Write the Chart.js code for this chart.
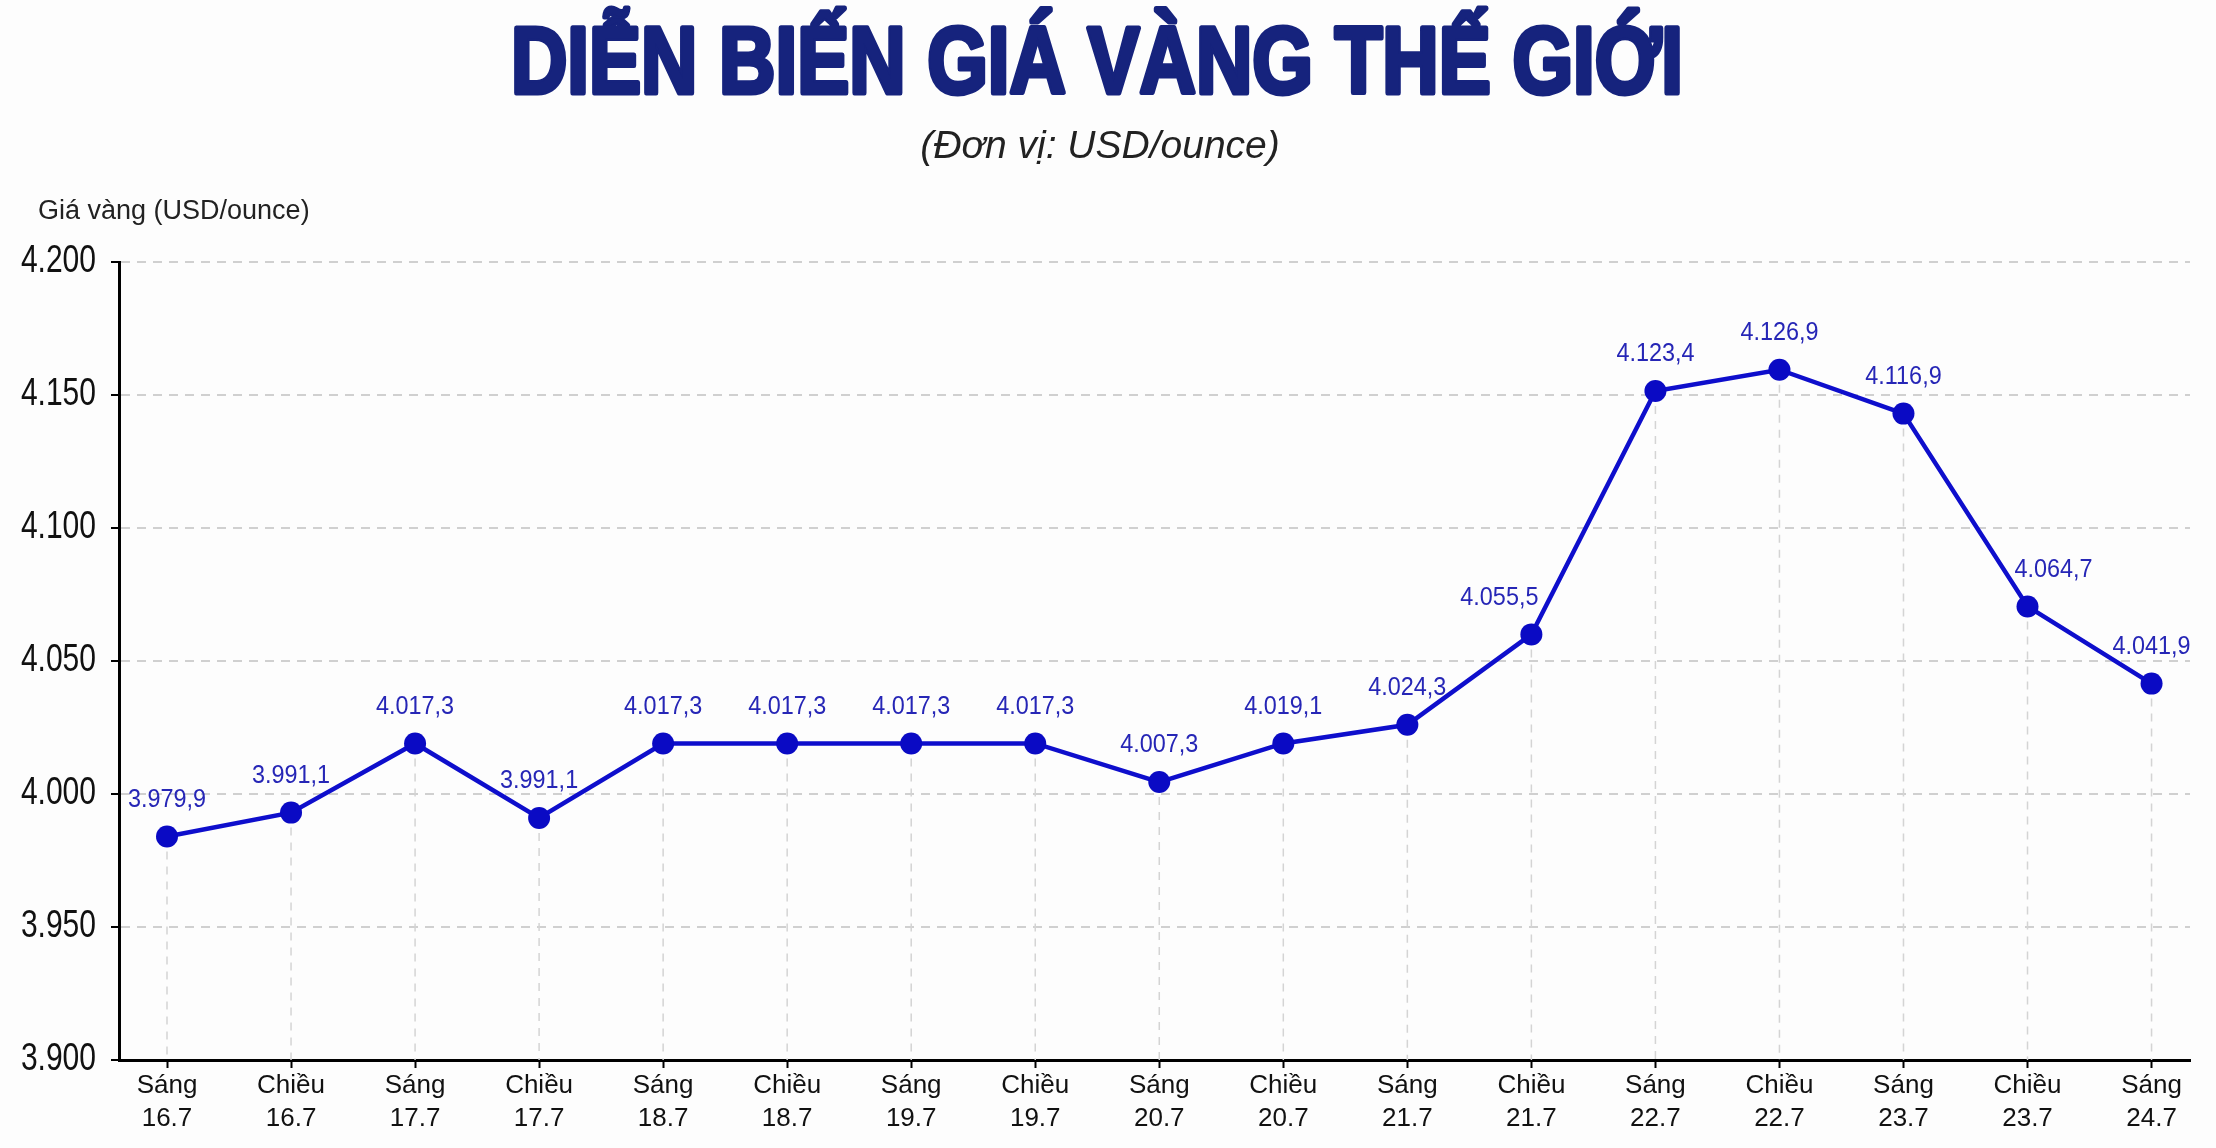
<!DOCTYPE html>
<html lang="vi">
<head>
<meta charset="utf-8">
<title>Diễn biến giá vàng thế giới</title>
<script src="https://cdn.jsdelivr.net/npm/chart.js@4.4.1/dist/chart.umd.min.js"></script>
<style>
  html, body { margin: 0; padding: 0; background: #fdfdfd; }
  canvas { display: block; }
</style>
</head>
<body>
<canvas id="giaVang" width="2216" height="1148"></canvas>
<script>
// buổi + ngày của từng phiên
const buoi = ["Sáng", "Chiều", "Sáng", "Chiều", "Sáng", "Chiều", "Sáng", "Chiều", "Sáng",
              "Chiều", "Sáng", "Chiều", "Sáng", "Chiều", "Sáng", "Chiều", "Sáng"];
const ngay = ["16.7", "16.7", "17.7", "17.7", "18.7", "18.7", "19.7", "19.7", "20.7",
              "20.7", "21.7", "21.7", "22.7", "22.7", "23.7", "23.7", "24.7"];

// vị trí điểm đọc trên hình (USD/ounce)
const giaVe = [3984, 3993, 4019, 3991, 4019, 4019, 4019, 4019, 4004.5,
               4019, 4026, 4060, 4151.5, 4159.5, 4143, 4070.5, 4041.5];
// số ghi trên nhãn
const giaNhan = [3979.9, 3991.1, 4017.3, 3991.1, 4017.3, 4017.3, 4017.3, 4017.3, 4007.3,
                 4019.1, 4024.3, 4055.5, 4123.4, 4126.9, 4116.9, 4064.7, 4041.9];

const yMin = 3900, yMax = 4200, yStep = 50;

const SANS = '"Liberation Sans", Arial, sans-serif';

function nghin(n) {
  return String(Math.round(n)).replace(/\B(?=(\d{3})+(?!\d))/g, ".");
}
function soVN(n) {
  let p = n.toFixed(1).split(".");
  return nghin(Number(p[0])) + "," + p[1];
}

// viết chữ (sx < 1 là ép ngang, stroke để tô đậm)
function chu(ctx, text, x, y, font, color, align, sx, stroke) {
  ctx.save();
  ctx.translate(x, y);
  ctx.scale(sx, 1);
  ctx.font = font;
  ctx.fillStyle = color;
  ctx.textAlign = align;
  ctx.textBaseline = "middle";
  if (stroke) {
    ctx.strokeStyle = color;
    ctx.lineWidth = stroke;
    ctx.lineJoin = "round";
    ctx.strokeText(text, 0, 0);
  }
  ctx.fillText(text, 0, 0);
  ctx.restore();
}

// đường gióng từ điểm xuống trục hoành
const dropLines = {
  id: "dropLines",
  beforeDatasetsDraw(chart) {
    const ctx = chart.ctx;
    const meta = chart.getDatasetMeta(0);
    const bottom = chart.chartArea.bottom;
    ctx.save();
    ctx.strokeStyle = "#d4d4d4";
    ctx.lineWidth = 1.5;
    ctx.setLineDash([8, 7]);
    meta.data.forEach(p => {
      ctx.beginPath();
      ctx.moveTo(p.x, p.y);
      ctx.lineTo(p.x, bottom);
      ctx.stroke();
    });
    ctx.restore();
  }
};

// tiêu đề, nhãn trục, nhãn giá
const chuViet = {
  id: "chuViet",
  afterDraw(chart) {
    const ctx = chart.ctx;
    const area = chart.chartArea;
    const sx = chart.scales.x, sy = chart.scales.y;

    chu(ctx, "DIỄN BIẾN GIÁ VÀNG THẾ GIỚI", 1097, 67, "bold 94px " + SANS, "#16237d", "center", 0.83, 5);
    chu(ctx, "(Đơn vị: USD/ounce)", 1100, 147, "italic 39px " + SANS, "#222", "center", 1);
    chu(ctx, "Giá vàng (USD/ounce)", 38, area.top - 50, "27px " + SANS, "#222", "left", 1);

    sy.ticks.forEach(t => {
      chu(ctx, nghin(t.value), area.left - 23, sy.getPixelForValue(t.value),
          "38px " + SANS, "#111", "right", 0.79);
    });
    sx.ticks.forEach(t => {
      const i = t.value;
      if (!Number.isInteger(i) || !buoi[i]) return;
      const x = sx.getPixelForValue(i);
      chu(ctx, buoi[i], x, area.bottom + 26, "26px " + SANS, "#111", "center", 1);
      chu(ctx, ngay[i], x, area.bottom + 59, "26px " + SANS, "#111", "center", 1);
    });

    const pts = chart.getDatasetMeta(0).data;
    pts.forEach((p, i) => {
      // đẩy nhãn sang bên nếu đoạn thẳng kề dốc đứng
      let dx = 0;
      if (pts[i + 1] && pts[i + 1].y < p.y - 120) dx = -32;
      else if (pts[i - 1] && pts[i - 1].y < p.y - 120) dx = 26;
      chu(ctx, soVN(giaNhan[i]), p.x + dx, p.y - 37, "26px " + SANS, "#2626b6", "center", 0.9);
    });
  }
};

const ctx = document.getElementById("giaVang").getContext("2d");
const chart = new Chart(ctx, {
  type: "line",
  data: {
    datasets: [{
      label: "Giá vàng",
      data: giaVe.map((v, i) => ({ x: i, y: v })),
      borderColor: "#0e0ecc",
      borderWidth: 4.5,
      tension: 0,
      pointRadius: 11,
      pointBackgroundColor: "#0a0ac4",
      pointBorderWidth: 0
    }]
  },
  options: {
    responsive: false,
    animation: false,
    devicePixelRatio: 1,
    layout: { padding: { left: 29, right: 26, bottom: 5, top: 262 } },
    plugins: {
      legend: { display: false },
      tooltip: { enabled: false }
    },
    scales: {
      x: {
        type: "linear",
        min: -0.387,
        max: 16.31,
        afterFit: s => { s.height = 83; },
        ticks: {
          display: false,
          stepSize: 1,
          includeBounds: false,
          autoSkip: false
        },
        grid: { drawOnChartArea: false, tickLength: 8, tickColor: "#000", tickWidth: 2 },
        border: { color: "#000", width: 3 }
      },
      y: {
        min: yMin,
        max: yMax,
        afterFit: s => { s.width = 90; },
        ticks: { display: false, stepSize: yStep },
        grid: { color: "#d0d0d0", lineWidth: 2, tickLength: 8, tickColor: "#000", tickWidth: 2 },
        border: { color: "#000", width: 3, dash: [9, 7] }
      }
    }
  },
  plugins: [dropLines, chuViet]
});
</script>
</body>
</html>
